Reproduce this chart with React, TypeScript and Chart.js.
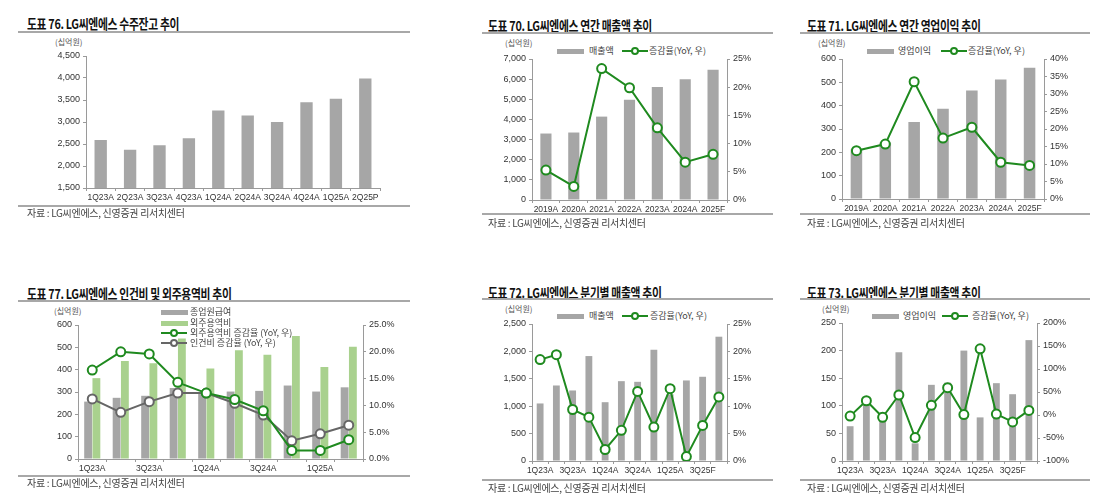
import React, { useEffect, useRef } from "react";
import { Chart, registerables } from "chart.js";
Chart.register(...registerables);

// ---------- DATA ----------
const backlogQuarters = ["1Q23A", "2Q23A", "3Q23A", "4Q23A", "1Q24A", "2Q24A", "3Q24A", "4Q24A", "1Q25A", "2Q25P"];
const backlogValues = [2590, 2370, 2470, 2630, 3260, 3150, 3000, 3450, 3530, 3990];

const annualYears = ["2019A", "2020A", "2021A", "2022A", "2023A", "2024A", "2025F"];
const annualSales = [3300, 3350, 4140, 4980, 5610, 5990, 6470];
const annualSalesYoY = [5.3, 2.4, 23.3, 19.9, 12.8, 6.7, 8.1];
const annualOp = [213, 242, 330, 387, 465, 512, 563];
const annualOpYoY = [13.8, 15.7, 33.5, 17.4, 20.5, 10.5, 9.6];

const costQuarters = ["1Q23A", "2Q23A", "3Q23A", "4Q23A", "1Q24A", "2Q24A", "3Q24A", "4Q24A", "1Q25A", "2Q25A"];
const payroll = [257, 274, 283, 318, 295, 302, 305, 329, 302, 321];
const outsourcing = [362, 439, 429, 540, 405, 487, 467, 551, 412, 503];
const outsourcingYoY = [16.6, 20.0, 19.6, 14.3, 12.3, 11.1, 9.0, 1.6, 1.6, 3.6];
const laborYoY = [11.2, 8.7, 10.7, 12.3, 12.3, 10.4, 8.2, 3.4, 4.7, 6.3];

const qQuarters = ["1Q23A", "2Q23A", "3Q23A", "4Q23A", "1Q24A", "2Q24A", "3Q24A", "4Q24A", "1Q25A", "2Q25A", "3Q25F", "4Q25F"];
const qSales = [1050, 1378, 1287, 1915, 1073, 1457, 1445, 2030, 1215, 1470, 1537, 2268];
const qSalesYoY = [18.5, 19.4, 9.4, 8.0, 2.1, 5.6, 12.7, 6.2, 13.2, 0.8, 6.5, 11.7];
const qOp = [63, 114, 88, 197, 32, 138, 142, 200, 79, 141, 121, 219];
const qOpYoY = [-2.4, 31, -5, 43.5, -49, 21, 59.5, 1, 143.8, 2, -15, 10];

// ---------- STYLE ----------
const FONT = "'Liberation Sans', Arial, sans-serif";
const KFONT = "'Noto Sans CJK KR', 'Noto Sans', sans-serif";
const AXIS = "#9a9a9a";
const TICK = "#333333";
const GREY_BAR = "#a6a6a6";
const GREEN_BAR = "#a9d18e";
const GREEN = "#1f8a1f";
const GREY_LINE = "#666666";

const LW = 60;
const RW = 50;
const XH = 24;
const PT = 10;

type Rect = { l: number; t: number; r: number; b: number };

const commaFmt = (v: any) => Number(v).toLocaleString("en-US");

function yLeft(min: number, max: number, step: number, fmt: (v: any) => string) {
  return {
    type: "linear",
    position: "left",
    min,
    max,
    ticks: { stepSize: step, color: TICK, font: { family: FONT, size: 9 }, padding: 3, callback: fmt },
    grid: { drawOnChartArea: false, color: AXIS, tickColor: AXIS, tickLength: 3 },
    border: { color: AXIS },
    afterFit: (s: any) => {
      s.width = LW;
    },
  };
}

function yRight(min: number, max: number, step: number, fmt: (v: any) => string) {
  return {
    type: "linear",
    position: "right",
    min,
    max,
    ticks: { stepSize: step, color: TICK, font: { family: FONT, size: 9 }, padding: 3, callback: fmt },
    grid: { drawOnChartArea: false, color: AXIS, tickColor: AXIS, tickLength: 3 },
    border: { color: AXIS },
    afterFit: (s: any) => {
      s.width = RW;
    },
  };
}

function xAxis(labels: string[], everyOther: boolean) {
  return {
    type: "category",
    labels,
    ticks: {
      color: TICK,
      font: { family: FONT, size: 8.5 },
      padding: 2,
      autoSkip: false,
      maxRotation: 0,
      callback: (_v: any, i: number) => (everyOther ? (i % 2 === 0 ? labels[i] : "") : labels[i]),
    },
    grid: { drawOnChartArea: false, color: AXIS, tickColor: AXIS, tickLength: 3, offset: true },
    border: { color: AXIS },
    afterFit: (s: any) => {
      s.height = XH;
    },
  };
}

function lineDs(label: string, data: number[], color: string) {
  return {
    type: "line",
    label,
    data,
    yAxisID: "y1",
    borderColor: color,
    backgroundColor: "#ffffff",
    borderWidth: 2,
    pointRadius: 4.5,
    pointBorderWidth: 2,
    pointBackgroundColor: "#ffffff",
    pointBorderColor: color,
    tension: 0,
    order: 0,
  };
}

function barDs(label: string, data: number[], color: string, bp: number, cp: number) {
  return {
    type: "bar",
    label,
    data,
    yAxisID: "y",
    backgroundColor: color,
    barPercentage: bp,
    categoryPercentage: cp,
    order: 1,
  };
}

function ChartBox({ rect, hasRight, build }: { rect: Rect; hasRight: boolean; build: () => any }) {
  const ref = useRef<HTMLCanvasElement | null>(null);
  const x = rect.l - LW;
  const y = rect.t - PT;
  const w = LW + (rect.r - rect.l) + (hasRight ? RW : 10);
  const h = PT + (rect.b - rect.t) + XH;
  useEffect(() => {
    const cfg = build();
    cfg.options = {
      ...cfg.options,
      responsive: false,
      animation: false,
      devicePixelRatio: 1,
      layout: { padding: { top: PT, left: 0, right: hasRight ? 0 : 10, bottom: 0 } },
      plugins: { legend: { display: false }, tooltip: { enabled: false } },
    };
    const chart = new Chart(ref.current as HTMLCanvasElement, cfg);
    return () => chart.destroy();
  }, []);
  return (
    <canvas
      ref={ref}
      width={w}
      height={h}
      style={{ position: "absolute", left: x, top: y, width: w, height: h }}
    />
  );
}

function Txt({ x, yc, text, size, color, weight, ls, sx }: any) {
  return (
    <div
      style={{
        position: "absolute",
        left: x,
        top: yc - size,
        height: size * 2,
        lineHeight: `${size * 2}px`,
        fontFamily: KFONT,
        fontSize: size,
        fontWeight: weight || 400,
        color: color || "#222",
        letterSpacing: ls || 0,
        whiteSpace: "nowrap",
        transform: sx ? `scaleX(${sx})` : undefined,
        transformOrigin: "left center",
      }}
    >
      {text}
    </div>
  );
}

function HLine({ x1, x2, y, color, th }: any) {
  return (
    <div style={{ position: "absolute", left: x1, top: y, width: x2 - x1, height: th || 1.5, background: color || "#a0a0a0" }} />
  );
}

function BarSw({ x, yc, color }: any) {
  return <div style={{ position: "absolute", left: x, top: yc - 2.5, width: 27, height: 5, background: color }} />;
}

function LineSw({ x, yc, color }: any) {
  return (
    <>
      <div style={{ position: "absolute", left: x, top: yc - 1, width: 26, height: 2, background: color }} />
      <div
        style={{
          position: "absolute",
          left: x + 13 - 4,
          top: yc - 4,
          width: 4,
          height: 4,
          borderRadius: "50%",
          border: `2px solid ${color}`,
          background: "#fff",
        }}
      />
    </>
  );
}

function Header({ x, lineX1, lineX2, titleY, lineY, title }: any) {
  return (
    <>
      <Txt x={x} yc={titleY} text={title} size={13.5} weight={700} color="#111" ls={-0.4} sx={0.8} />
      <HLine x1={lineX1} x2={lineX2} y={lineY} color="#a8a8a8" th={1.5} />
    </>
  );
}

function Footer({ x, lineX1, lineX2, lineY, textY }: any) {
  return (
    <>
      <HLine x1={lineX1} x2={lineX2} y={lineY} color="#a8a8a8" th={1.5} />
      <Txt x={x} yc={textY} text="자료 : LG씨엔에스, 신영증권 리서치센터" size={10} color="#444" ls={-0.3} />
    </>
  );
}

const R76: Rect = { l: 86, t: 56, r: 380, b: 188 };
const R70: Rect = { l: 532, t: 59, r: 727, b: 200 };
const R71: Rect = { l: 842, t: 59, r: 1044, b: 199 };
const R77: Rect = { l: 78, t: 325, r: 363, b: 459 };
const R72: Rect = { l: 532, t: 324, r: 727, b: 461 };
const R73: Rect = { l: 842, t: 323, r: 1037, b: 461 };

export default function App() {
  const unitLabel = "(십억원)";
  return (
    <div style={{ position: "absolute", left: 0, top: 0, width: 1110, height: 500, background: "#fff", overflow: "hidden" }}>
      {/* Panel 76 */}
      <Header x={27} lineX1={18} lineX2={410} titleY={23} lineY={31} title="도표 76. LG씨엔에스 수주잔고 추이" />
      <Txt x={55} yc={42} text={unitLabel} size={8} color="#555" />
      <ChartBox
        rect={R76}
        hasRight={false}
        build={() => ({
          type: "bar",
          data: { labels: backlogQuarters, datasets: [barDs("수주잔고", backlogValues, GREY_BAR, 0.42, 1)] },
          options: { scales: { x: xAxis(backlogQuarters, false), y: yLeft(1500, 4500, 500, commaFmt) } },
        })}
      />
      <Footer x={27} lineX1={18} lineX2={410} lineY={205} textY={213} />

      {/* Panel 70 */}
      <Header x={488} lineX1={482} lineX2={773} titleY={25} lineY={32} title="도표 70. LG씨엔에스 연간 매출액 추이" />
      <Txt x={505} yc={43} text={unitLabel} size={8} color="#555" />
      <BarSw x={557} yc={51} color={GREY_BAR} />
      <Txt x={589} yc={51} text="매출액" size={9} color="#444" />
      <LineSw x={622} yc={51} color={GREEN} />
      <Txt x={649} yc={51} text="증감율(YoY, 우)" size={9} color="#444" />
      <ChartBox
        rect={R70}
        hasRight={true}
        build={() => ({
          type: "bar",
          data: {
            labels: annualYears,
            datasets: [barDs("매출액", annualSales, GREY_BAR, 0.4, 1), lineDs("증감율(YoY, 우)", annualSalesYoY, GREEN)],
          },
          options: {
            scales: {
              x: xAxis(annualYears, false),
              y: yLeft(0, 7000, 1000, commaFmt),
              y1: yRight(0, 25, 5, (v: any) => `${v}%`),
            },
          },
        })}
      />
      <Footer x={488} lineX1={482} lineX2={773} lineY={213} textY={223} />

      {/* Panel 71 */}
      <Header x={807} lineX1={800} lineX2={1090} titleY={25} lineY={32} title="도표 71. LG씨엔에스 연간 영업이익 추이" />
      <Txt x={818} yc={43} text={unitLabel} size={8} color="#555" />
      <BarSw x={867} yc={51} color={GREY_BAR} />
      <Txt x={898} yc={51} text="영업이익" size={9} color="#444" />
      <LineSw x={941} yc={51} color={GREEN} />
      <Txt x={968} yc={51} text="증감율(YoY, 우)" size={9} color="#444" />
      <ChartBox
        rect={R71}
        hasRight={true}
        build={() => ({
          type: "bar",
          data: {
            labels: annualYears,
            datasets: [barDs("영업이익", annualOp, GREY_BAR, 0.4, 1), lineDs("증감율(YoY, 우)", annualOpYoY, GREEN)],
          },
          options: {
            scales: {
              x: xAxis(annualYears, false),
              y: yLeft(0, 600, 100, commaFmt),
              y1: yRight(0, 40, 5, (v: any) => `${v}%`),
            },
          },
        })}
      />
      <Footer x={807} lineX1={800} lineX2={1090} lineY={213} textY={223} />

      {/* Panel 77 */}
      <Header x={27} lineX1={18} lineX2={410} titleY={293} lineY={300} title="도표 77. LG씨엔에스 인건비 및 외주용역비 추이" />
      <Txt x={54} yc={311} text={unitLabel} size={8} color="#555" />
      <ChartBox
        rect={R77}
        hasRight={true}
        build={() => ({
          type: "bar",
          data: {
            labels: costQuarters,
            datasets: [
              barDs("종업원급여", payroll, GREY_BAR, 0.95, 0.58),
              barDs("외주용역비", outsourcing, GREEN_BAR, 0.95, 0.58),
              lineDs("외주용역비 증감율 (YoY, 우)", outsourcingYoY, GREEN),
              lineDs("인건비 증감율 (YoY, 우)", laborYoY, GREY_LINE),
            ],
          },
          options: {
            scales: {
              x: xAxis(costQuarters, true),
              y: yLeft(0, 600, 100, commaFmt),
              y1: yRight(0, 25, 5, (v: any) => `${Number(v).toFixed(1)}%`),
            },
          },
        })}
      />
      <BarSw x={161} yc={312} color={GREY_BAR} />
      <Txt x={190} yc={312} text="종업원급여" size={9} color="#444" />
      <BarSw x={161} yc={323} color={GREEN_BAR} />
      <Txt x={190} yc={323} text="외주용역비" size={9} color="#444" />
      <LineSw x={161} yc={333} color={GREEN} />
      <Txt x={190} yc={333} text="외주용역비 증감율 (YoY, 우)" size={9} color="#444" />
      <LineSw x={161} yc={343} color={GREY_LINE} />
      <Txt x={190} yc={343} text="인건비 증감율 (YoY, 우)" size={9} color="#444" />
      <Footer x={27} lineX1={18} lineX2={410} lineY={475} textY={483} />

      {/* Panel 72 */}
      <Header x={488} lineX1={482} lineX2={773} titleY={292} lineY={298} title="도표 72. LG씨엔에스 분기별 매출액 추이" />
      <Txt x={505} yc={309} text={unitLabel} size={8} color="#555" />
      <BarSw x={557} yc={316} color={GREY_BAR} />
      <Txt x={589} yc={316} text="매출액" size={9} color="#444" />
      <LineSw x={622} yc={316} color={GREEN} />
      <Txt x={650} yc={316} text="증감율(YoY, 우)" size={9} color="#444" />
      <ChartBox
        rect={R72}
        hasRight={true}
        build={() => ({
          type: "bar",
          data: {
            labels: qQuarters,
            datasets: [barDs("매출액", qSales, GREY_BAR, 0.42, 1), lineDs("증감율(YoY, 우)", qSalesYoY, GREEN)],
          },
          options: {
            scales: {
              x: xAxis(qQuarters, true),
              y: yLeft(0, 2500, 500, commaFmt),
              y1: yRight(0, 25, 5, (v: any) => `${v}%`),
            },
          },
        })}
      />
      <Footer x={488} lineX1={482} lineX2={773} lineY={479} textY={488} />

      {/* Panel 73 */}
      <Header x={807} lineX1={800} lineX2={1090} titleY={292} lineY={298} title="도표 73. LG씨엔에스 분기별 매출액 추이" />
      <Txt x={822} yc={309} text={unitLabel} size={8} color="#555" />
      <BarSw x={872} yc={316} color={GREY_BAR} />
      <Txt x={903} yc={316} text="영업이익" size={9} color="#444" />
      <LineSw x={942} yc={316} color={GREEN} />
      <Txt x={972} yc={316} text="증감율(YoY, 우)" size={9} color="#444" />
      <ChartBox
        rect={R73}
        hasRight={true}
        build={() => ({
          type: "bar",
          data: {
            labels: qQuarters,
            datasets: [barDs("영업이익", qOp, GREY_BAR, 0.42, 1), lineDs("증감율(YoY, 우)", qOpYoY, GREEN)],
          },
          options: {
            scales: {
              x: xAxis(qQuarters, true),
              y: yLeft(0, 250, 50, commaFmt),
              y1: yRight(-100, 200, 50, (v: any) => `${v}%`),
            },
          },
        })}
      />
      <Footer x={807} lineX1={800} lineX2={1090} lineY={479} textY={488} />
    </div>
  );
}
